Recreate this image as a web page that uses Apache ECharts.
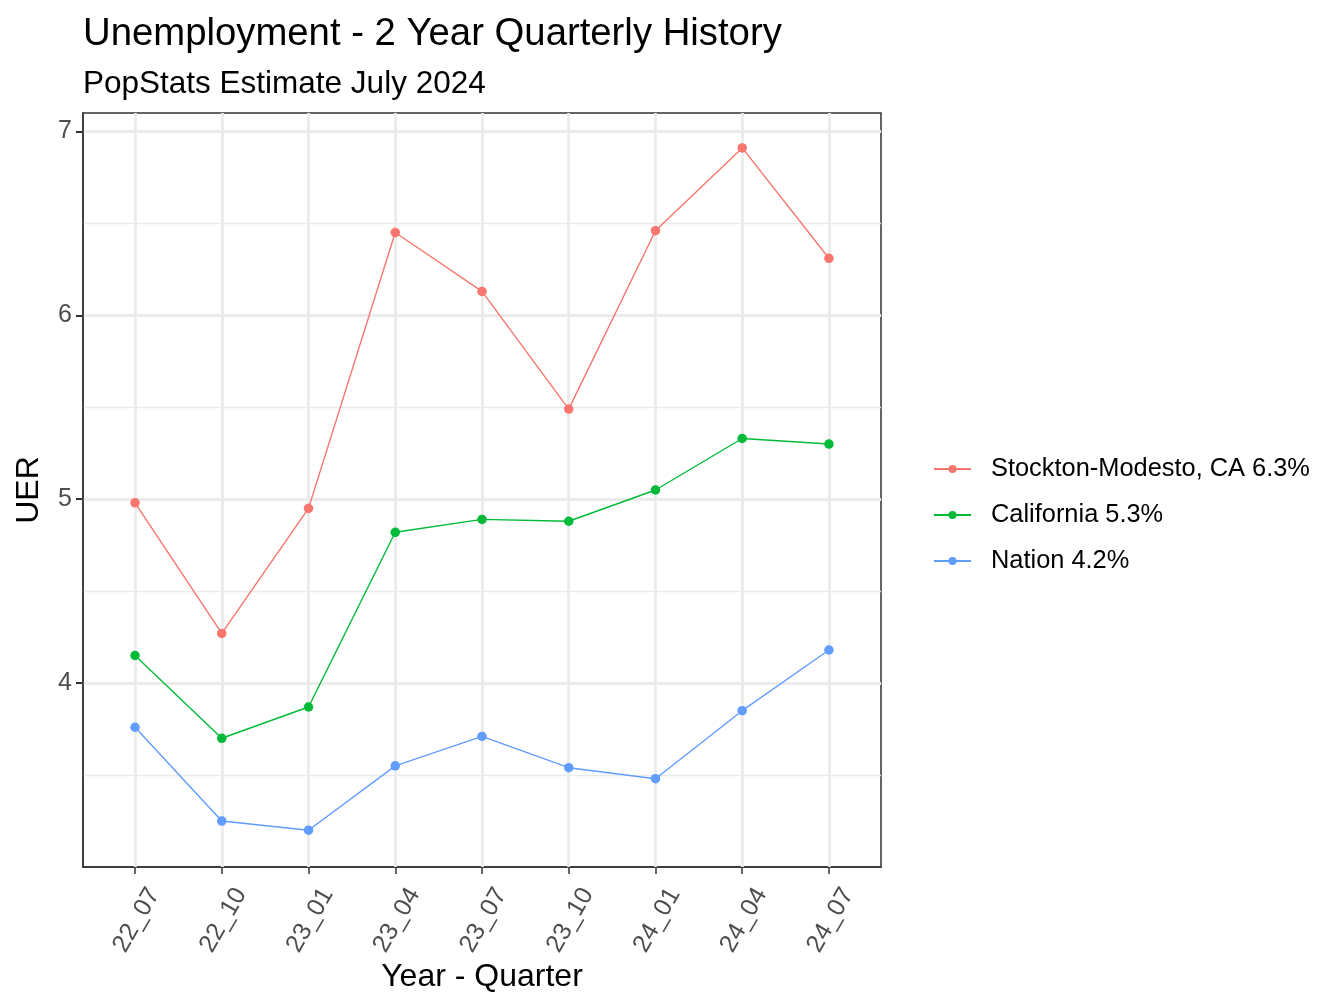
<!DOCTYPE html>
<html>
<head>
<meta charset="utf-8">
<script src="https://cdn.jsdelivr.net/npm/echarts@6/dist/echarts.min.js"></script>
<style>
  html, body { margin: 0; padding: 0; background: #ffffff; }
  #main { width: 1344px; height: 1008px; }
</style>
</head>
<body>
<div id="main"></div>
<script>
// quarters on the x axis
var quarters = ['22_07', '22_10', '23_01', '23_04', '23_07', '23_10', '24_01', '24_04', '24_07'];
// unemployment rate per area
var stockton = [4.98, 4.27, 4.95, 6.45, 6.13, 5.49, 6.46, 6.91, 6.31];
var california = [4.15, 3.70, 3.87, 4.82, 4.89, 4.88, 5.05, 5.33, 5.30];
var nation = [3.76, 3.25, 3.20, 3.55, 3.71, 3.54, 3.48, 3.85, 4.18];
var seriesNames = ['Stockton-Modesto, CA 6.3%', 'California 5.3%', 'Nation 4.2%'];
var colorList = ['#F8766D', '#00BA38', '#619CFF'];
var yTicks = [4, 5, 6, 7];

var FONT = 'Liberation Sans, Arial, sans-serif';

function toPoints(list){
  return list.map(function(v, i){ return [i, v]; });
}

function lineSeries(name, list, color){
  return {
    name: name,
    type: 'line',
    z: 3,
    data: toPoints(list),
    symbol: 'circle',
    symbolSize: 9.5,
    showSymbol: true,
    itemStyle: { color: color, borderColor: color, borderWidth: 0 },
    lineStyle: { color: color, width: 1.4 },
    emphasis: { disabled: true },
    animation: false
  };
}

var chart = echarts.init(document.getElementById('main'), null, { renderer: 'canvas' });

var option = {
  backgroundColor: '#ffffff',
  animation: false,
  title: [{
    text: 'Unemployment - 2 Year Quarterly History',
    left: 83,
    top: 15,
    padding: 0,
    textStyle: { fontFamily: FONT, fontSize: 38.3, fontWeight: 'normal', color: '#000000' }
  }, {
    text: 'PopStats Estimate July 2024',
    left: 83,
    top: 68,
    padding: 0,
    textStyle: { fontFamily: FONT, fontSize: 31.5, fontWeight: 'normal', color: '#000000' }
  }],
  legend: {
    orient: 'vertical',
    left: 933,
    top: 446,
    padding: 0,
    itemGap: 0,
    itemWidth: 37,
    itemHeight: 10,
    data: seriesNames,
    selectedMode: false,
    textStyle: { fontFamily: FONT, fontSize: 25.4, color: '#000000', lineHeight: 46, padding: [0, 0, 0, 15] }
  },
  grid: {
    left: 83,
    right: 463,
    top: 113,
    bottom: 141,
    show: true,
    borderColor: '#333333',
    borderWidth: 1.5,
    backgroundColor: 'transparent'
  },
  xAxis: {
    type: 'value',
    min: -0.6,
    max: 8.6,
    name: 'Year - Quarter',
    nameLocation: 'middle',
    nameGap: 94,
    nameMoveOverlap: false,
    nameTextStyle: { fontFamily: FONT, fontSize: 32, color: '#000000' },
    axisLine: { show: true, onZero: false, lineStyle: { color: '#333333', width: 1.5 } },
    splitLine: { show: false },
    axisTick: {
      show: true,
      length: 7,
      lineStyle: { color: '#333333', width: 1.5 },
      customValues: quarters.map(function(q, i){ return i; })
    },
    axisLabel: {
      rotate: 60,
      margin: 12,
      verticalAlign: 'top',
      lineHeight: 44,
      fontFamily: FONT,
      fontSize: 25,
      color: '#4D4D4D',
      customValues: quarters.map(function(q, i){ return i; }),
      formatter: function(v){ return quarters[Math.round(v)] || ''; }
    }
  },
  yAxis: {
    type: 'value',
    min: 3,
    max: 7.1,
    interval: 1,
    name: 'UER',
    nameLocation: 'middle',
    nameGap: 38,
    nameTextStyle: { fontFamily: FONT, fontSize: 32, color: '#000000' },
    axisLine: { show: true, onZero: false, lineStyle: { color: '#333333', width: 1.5 } },
    axisTick: {
      show: true,
      length: 7,
      lineStyle: { color: '#333333', width: 2 },
      customValues: yTicks
    },
    axisLabel: {
      margin: 11,
      fontFamily: FONT,
      fontSize: 25,
      color: '#4D4D4D',
      customValues: yTicks
    },
    splitLine: { show: true, lineStyle: { color: '#EBEBEB', width: 2.8 } },
    minorTick: { show: false, splitNumber: 2 },
    minorSplitLine: { show: true, lineStyle: { color: '#EBEBEB', width: 1.4 } }
  },
  series: [{
    // vertical grid lines at each quarter
    type: 'line',
    z: 1,
    data: [],
    silent: true,
    markLine: {
      z: 1,
      silent: true,
      symbol: 'none',
      animation: false,
      label: { show: false },
      lineStyle: { color: '#EBEBEB', width: 2.8, type: 'solid' },
      emphasis: { disabled: true },
      data: quarters.map(function(q, i){ return { xAxis: i }; })
    }
  },
    lineSeries(seriesNames[0], stockton, colorList[0]),
    lineSeries(seriesNames[1], california, colorList[1]),
    lineSeries(seriesNames[2], nation, colorList[2])
  ]
};

chart.setOption(option);
</script>
</body>
</html>
